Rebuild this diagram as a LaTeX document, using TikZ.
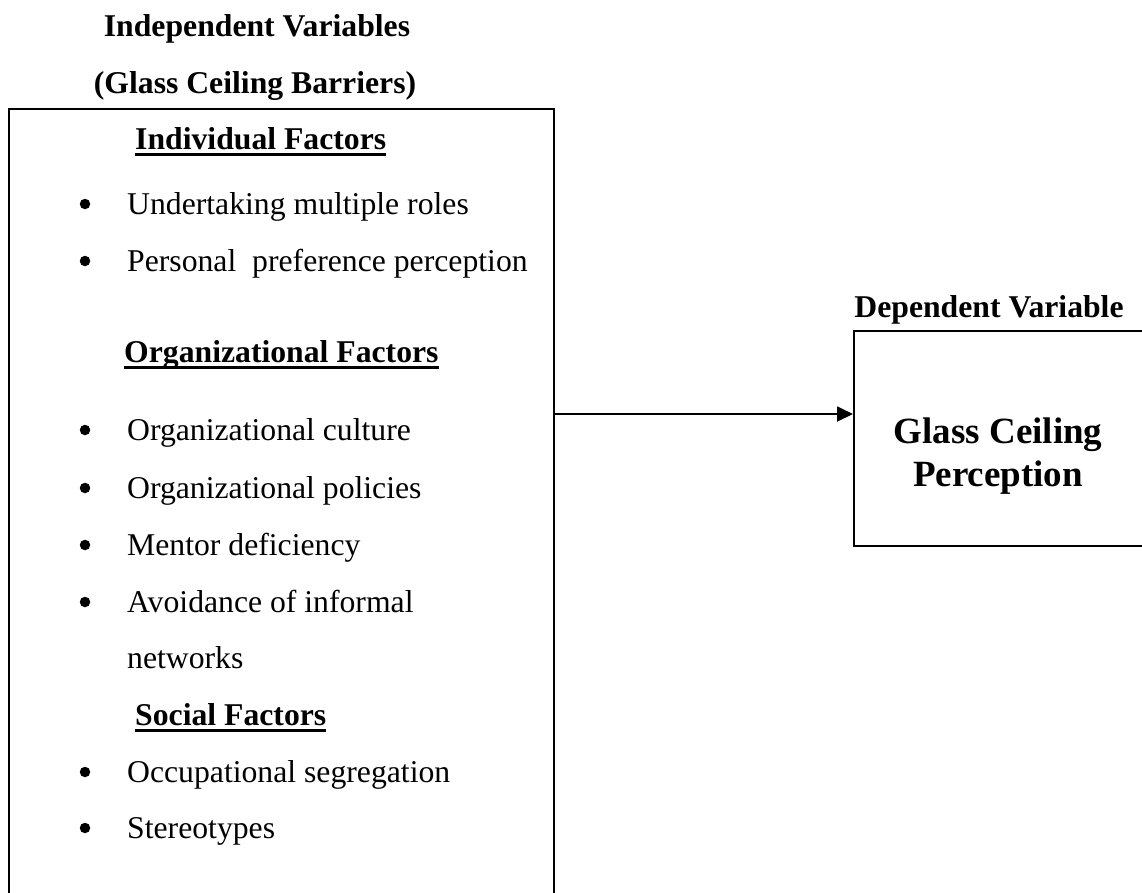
\documentclass[tikz,border=0pt]{standalone}
\usepackage{fontspec}
\setmainfont{Liberation Serif}
\usetikzlibrary{arrows.meta}
\begin{document}
\begin{tikzpicture}[x=1pt,y=-1pt,
  txt/.style={inner sep=0pt, anchor=base west, font=\fontsize{31.7}{38}\selectfont},
  btxt/.style={inner sep=0pt, anchor=base, font=\fontsize{31.7}{38}\selectfont\bfseries},
  head/.style={inner sep=0pt, anchor=base west, font=\fontsize{31.7}{38}\selectfont\bfseries},
  bigtxt/.style={inner sep=0pt, anchor=base, font=\fontsize{37}{42}\selectfont\bfseries},
  boxline/.style={draw, line width=2.1pt, inner sep=0pt},
  uline/.style={line width=3.2pt},
  bul/.style={fill=black, circle, inner sep=0pt, minimum size=10.5pt},
  conn/.style={line width=1.8pt, -{Triangle[length=16pt,width=15pt]}}
]
\clip (0,0) rectangle (1142,892);
\fill[white] (0,0) rectangle (1142,892);

% titles
\node[btxt] (t1) at (257,36) {Independent Variables};
\node[btxt] (t2) at (255,93) {(Glass Ceiling Barriers)};
\node[btxt] (t3) at (989,317) {Dependent Variable};

% boxes
\node[boxline, anchor=north west, minimum width=545pt, minimum height=800pt] (L) at (8,108) {};
\node[boxline, anchor=north west, minimum width=300pt, minimum height=215pt] (R) at (853,330) {};

% headings
\node[head] (h1) at (135,149) {Individual Factors};
\node[head] (h2) at (124,362) {Organizational Factors};
\node[head] (h3) at (135,725) {Social Factors};
\foreach \h in {h1,h2,h3}{
  \draw[uline] ([yshift=-5.5pt]\h.base west) -- ([yshift=-5.5pt]\h.base east);
}

% bullet items
\foreach \y/\n/\t in {214/i1/Undertaking multiple roles,
                      271/i2/Personal\ \ preference perception,
                      440/i3/Organizational culture,
                      498/i4/Organizational policies,
                      555/i5/Mentor deficiency,
                      612/i6/Avoidance of informal,
                      782/i8/Occupational segregation,
                      838/i9/Stereotypes}{
  \node[txt] (\n) at (127,\y) {\t};
  \node[bul] (b\n) at (85,\y-10) {};
}
\node[txt] (i7) at (127,668) {networks};

% right box text
\node[bigtxt] (g1) at (998,443) {Glass Ceiling};
\node[bigtxt] (g2) at (998,486) {Perception};

% connector
\coordinate (ay) at (0,414);
\draw[conn] (L.east |- ay) -- (R.west |- ay);
\end{tikzpicture}
\end{document}
